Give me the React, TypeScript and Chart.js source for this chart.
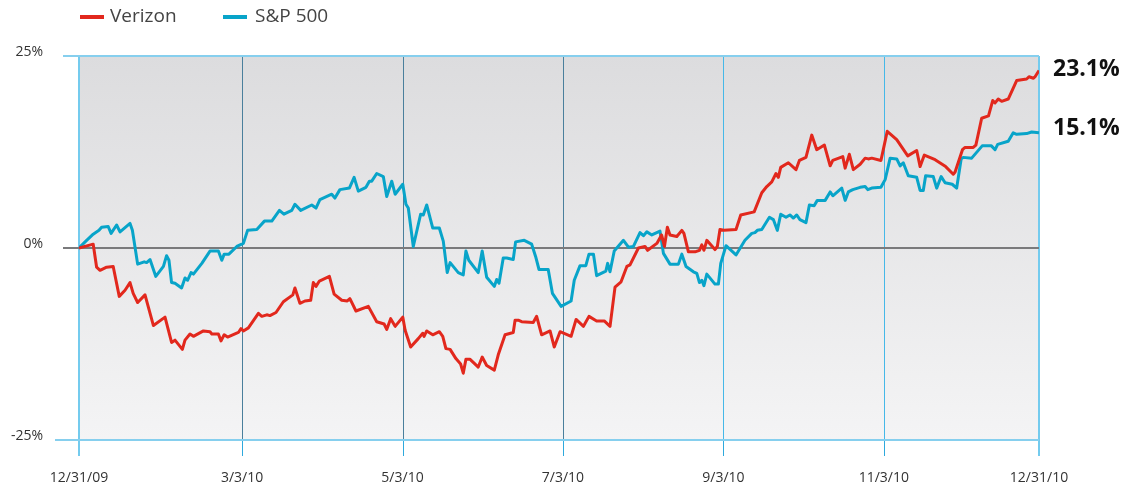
import React, { useEffect, useRef } from "react";
import { Chart, registerables } from "chart.js";

Chart.register(...registerables);

// Days since 12/31/09
const verizonDays = [0, 5.4, 6.7, 8.0, 10.5, 13.0, 15.3, 17.5, 19.4, 20.6, 22.3, 25.1, 28.3, 32.7, 35.2, 36.5, 39.3, 40.3, 42.2, 43.5, 47.3, 49.8, 50.5, 53.0, 54.0, 55.2, 56.5, 60.6, 61.6, 62.5, 64.4, 68.2, 69.5, 71.4, 72.6, 74.9, 77.7, 81.3, 82.1, 84.0, 85.9, 88.1, 89.1, 90.1, 91.4, 95.2, 97.0, 99.9, 102.0, 103.0, 105.3, 110.0, 113.2, 116.0, 117.0, 118.5, 120.2, 123.1, 124.0, 126.1, 129.0, 130.7, 131.2, 132.2, 134.5, 137.0, 138.3, 139.5, 141.1, 143.3, 145.1, 146.1, 147.1, 148.7, 151.8, 153.3, 155.0, 157.9, 159.4, 162.0, 165.1, 165.8, 167.0, 168.3, 172.7, 174.0, 175.9, 179.1, 180.7, 182.9, 187.1, 189.0, 191.8, 193.9, 196.8, 199.7, 201.9, 203.8, 206.1, 208.3, 209.5, 212.7, 215.2, 216.2, 219.7, 221.5, 222.6, 223.7, 224.7, 227.3, 229.2, 230.0, 231.7, 234.2, 235.9, 236.8, 237.6, 238.7, 241.8, 242.7, 243.7, 245.2, 249.8, 251.6, 256.7, 259.6, 261.5, 263.4, 265.0, 265.9, 266.8, 269.7, 272.6, 273.9, 276.4, 278.6, 280.5, 283.4, 285.6, 286.6, 290.4, 291.3, 292.9, 294.4, 297.0, 298.9, 300.1, 301.4, 304.9, 305.8, 307.3, 310.9, 315.1, 318.5, 319.8, 321.4, 325.5, 329.5, 332.4, 333.1, 335.9, 336.9, 340.0, 341.0, 343.2, 345.8, 347.4, 348.3, 349.5, 350.8, 353.3, 356.5, 360.3, 361.2, 362.9, 363.5, 365];
const verizonValues = [0, 0.5, -2.5, -2.9, -2.5, -2.4, -6.3, -5.5, -4.5, -5.9, -7.1, -6.1, -10.1, -9.0, -12.3, -12.0, -13.2, -12.0, -11.2, -11.5, -10.8, -10.9, -11.2, -11.2, -12.1, -11.3, -11.6, -11.0, -10.5, -10.8, -10.4, -8.5, -8.9, -8.7, -8.8, -8.4, -7.0, -6.1, -5.2, -7.2, -6.9, -6.8, -4.5, -5.0, -4.3, -3.7, -6.0, -6.8, -6.9, -6.6, -8.2, -7.6, -9.6, -9.9, -10.6, -9.2, -10.2, -9.0, -10.7, -12.9, -11.8, -11.1, -11.5, -10.8, -11.3, -10.9, -11.5, -13.1, -13.2, -14.4, -15.1, -16.3, -14.5, -14.5, -15.5, -14.2, -15.3, -15.9, -13.9, -11.3, -11.0, -9.4, -9.4, -9.6, -9.7, -8.9, -11.3, -10.8, -12.9, -10.9, -11.5, -9.3, -10.2, -8.9, -9.5, -9.5, -10.2, -5.1, -4.4, -2.4, -2.2, 0, 0.2, -0.3, 0.6, 1.7, 0.2, 2.7, 1.7, 1.5, 2.3, 1.9, -0.5, -0.5, -0.3, 0.4, -0.3, 1.0, -0.2, 0.2, 2.4, 2.3, 2.4, 4.3, 4.7, 7.2, 8.0, 8.6, 9.7, 9.2, 10.5, 11.1, 10.2, 11.4, 11.8, 14.7, 12.8, 13.4, 10.7, 11.4, 11.9, 10.4, 12.2, 10.2, 10.9, 11.7, 11.6, 11.7, 11.4, 12.8, 15.2, 14.1, 12.0, 12.7, 10.6, 12.1, 11.5, 10.6, 9.6, 9.9, 12.8, 13.1, 13.1, 13.4, 16.9, 17.2, 19.2, 18.9, 19.4, 19.1, 19.4, 21.8, 22.0, 22.3, 22.1, 22.3, 23.1];

const spDays = [0, 2.9, 5.4, 7.6, 8.6, 11.1, 12.2, 14.3, 15.6, 19.4, 20.3, 22.3, 24.8, 25.7, 27.0, 29.2, 32.1, 33.3, 34.2, 35.2, 36.5, 39.0, 40.3, 41.3, 42.6, 43.5, 46.7, 49.8, 53.0, 54.3, 55.2, 57.0, 60.0, 62.5, 64.1, 67.6, 70.5, 73.3, 76.2, 77.9, 80.9, 82.1, 84.3, 88.5, 90.1, 91.6, 96.1, 97.3, 99.2, 102.8, 104.6, 106.2, 109.1, 110.4, 111.3, 113.2, 115.7, 117.0, 118.9, 120.2, 123.1, 124.3, 125.2, 127.1, 129.9, 130.9, 132.2, 134.5, 137.0, 138.5, 140.0, 141.1, 144.2, 146.1, 147.1, 148.2, 151.8, 153.3, 155.0, 157.9, 158.8, 159.7, 161.3, 162.6, 165.1, 166.0, 169.3, 172.1, 173.6, 174.9, 178.4, 180.0, 183.3, 187.1, 188.3, 190.5, 192.7, 193.9, 195.6, 196.8, 200.3, 201.0, 201.9, 203.5, 207.0, 208.9, 210.8, 213.3, 214.6, 215.9, 217.8, 220.9, 222.2, 224.7, 227.9, 229.2, 230.8, 233.6, 234.9, 235.9, 236.8, 237.6, 238.7, 241.8, 243.1, 244.0, 246.0, 249.8, 253.2, 255.8, 257.0, 257.9, 259.6, 262.5, 264.0, 265.5, 266.8, 268.8, 270.3, 271.6, 272.9, 274.1, 276.4, 277.7, 279.5, 280.7, 283.7, 285.6, 286.6, 290.0, 291.3, 292.5, 294.2, 297.0, 298.9, 299.9, 301.4, 304.9, 306.5, 308.4, 310.9, 312.2, 313.4, 315.3, 318.5, 319.8, 321.0, 321.9, 324.8, 326.1, 327.8, 329.3, 332.0, 333.7, 335.4, 336.2, 339.4, 343.4, 346.9, 348.3, 349.3, 353.3, 355.2, 356.5, 360.3, 362.2, 365];
const spValues = [0, 1.0, 1.8, 2.3, 2.7, 2.8, 1.9, 3.0, 2.1, 3.2, 2.3, -2.1, -1.8, -1.9, -1.5, -3.7, -2.4, -1.0, -1.6, -4.5, -4.6, -5.2, -3.9, -4.2, -3.2, -3.4, -2.0, -0.4, -0.4, -1.6, -0.8, -0.8, 0.2, 0.6, 2.3, 2.4, 3.5, 3.5, 4.9, 4.4, 4.9, 5.7, 4.9, 5.6, 5.2, 6.3, 7.0, 6.5, 7.6, 7.8, 9.2, 7.4, 7.9, 8.7, 8.7, 9.7, 9.3, 6.7, 8.7, 7.0, 8.3, 5.7, 5.2, 0.2, 4.4, 4.3, 5.6, 2.6, 2.6, 0.9, -3.2, -1.9, -3.2, -3.5, -0.4, -1.6, -3.2, -0.4, -3.8, -5.0, -4.1, -4.6, -1.3, -1.3, -1.5, 0.8, 1.0, 0.5, -1.1, -2.8, -2.8, -5.9, -7.6, -6.9, -4.2, -2.3, -2.3, -0.8, -0.8, -3.6, -3.0, -2.0, -3.1, -0.4, 1.0, 0.1, 0.2, 2.0, 1.6, 2.1, 1.7, 2.2, -0.7, -2.1, -2.1, -0.8, -2.4, -3.1, -3.3, -4.5, -4.2, -4.9, -3.4, -4.7, -4.7, -2.0, 0.3, -0.9, 1.0, 1.9, 2.0, 2.3, 2.4, 4.0, 3.7, 2.3, 4.4, 4.0, 4.3, 3.9, 4.3, 3.7, 3.3, 5.6, 5.5, 6.2, 6.2, 7.3, 6.8, 7.8, 6.2, 7.3, 7.6, 7.9, 8.0, 7.6, 7.8, 7.9, 8.9, 11.7, 11.6, 10.7, 11.1, 9.4, 9.2, 7.5, 7.5, 9.4, 9.3, 7.8, 9.3, 8.5, 8.3, 7.8, 11.6, 11.8, 11.7, 13.3, 13.3, 12.8, 13.5, 13.9, 15.0, 14.8, 14.9, 15.1, 15.0];

const xTickDays = [0, 62, 123, 184, 245, 306, 365];
const xTickLabels = ["12/31/09", "3/3/10", "5/3/10", "7/3/10", "9/3/10", "11/3/10", "12/31/10"];
const yTickValues = [25, 0, -25];
const yTickLabels = ["25%", "0%", "-25%"];
const seriesNames = ["Verizon", "S&P 500"];
const endLabels = ["23.1%", "15.1%"];

const RED = "#e2281d";
const BLUE = "#08a4c9";
const FONT = '"Open Sans", "DejaVu Sans", sans-serif';

const decor = {
  id: "decor",
  beforeDatasetsDraw(chart: any) {
    const { ctx, chartArea } = chart;
    const { left, right, top, bottom } = chartArea;
    const x = chart.scales.x;
    const y = chart.scales.y;
    ctx.save();
    const g = ctx.createLinearGradient(0, top, 0, bottom);
    g.addColorStop(0, "#dcdcde");
    g.addColorStop(1, "#f4f4f5");
    ctx.fillStyle = g;
    ctx.fillRect(left, top, right - left, bottom - top);

    // vertical grid lines
    xTickDays.forEach((d, i) => {
      const edge = i === 0 || i === xTickDays.length - 1;
      const dark = i >= 1 && i <= 3;
      const px = Math.round(x.getPixelForValue(d)) + (edge ? 0 : 0.5);
      ctx.strokeStyle = edge ? "#74cbee" : dark ? "#4a7f9c" : "#45b8e8";
      ctx.lineWidth = edge ? 2 : 1;
      ctx.beginPath();
      ctx.moveTo(px, top);
      ctx.lineTo(px, bottom);
      ctx.stroke();
      ctx.strokeStyle = edge ? "#74cbee" : "#2ea9dd";
      ctx.beginPath();
      ctx.moveTo(px, bottom);
      ctx.lineTo(px, bottom + 16);
      ctx.stroke();
    });

    // horizontal lines
    const yTop = y.getPixelForValue(25);
    const yBot = y.getPixelForValue(-25);
    const yZero = y.getPixelForValue(0);
    ctx.lineWidth = 2;
    ctx.strokeStyle = "#86cfee";
    ctx.beginPath();
    ctx.moveTo(63, yTop);
    ctx.lineTo(right, yTop);
    ctx.moveTo(55, yBot);
    ctx.lineTo(right, yBot);
    ctx.stroke();
    ctx.strokeStyle = "#7a7a7c";
    ctx.beginPath();
    ctx.moveTo(63, yZero);
    ctx.lineTo(right, yZero);
    ctx.stroke();

    // y labels
    ctx.fillStyle = "#333";
    ctx.font = `14px ${FONT}`;
    ctx.textAlign = "right";
    ctx.textBaseline = "middle";
    yTickValues.forEach((v, i) => {
      ctx.fillText(yTickLabels[i], 43, y.getPixelForValue(v) - 4);
    });

    // x labels
    ctx.textAlign = "center";
    xTickDays.forEach((d, i) => {
      ctx.fillText(xTickLabels[i], x.getPixelForValue(d), 478);
    });

    // legend
    ctx.font = `19px ${FONT}`;
    ctx.textAlign = "left";
    ctx.fillStyle = RED;
    ctx.fillRect(80, 15, 24, 4);
    ctx.fillStyle = BLUE;
    ctx.fillRect(223, 15, 24, 4);
    ctx.fillStyle = "#444";
    ctx.fillText(seriesNames[0], 110, 17);
    ctx.fillText(seriesNames[1], 255, 17);

    // end labels
    ctx.font = `bold 23px ${FONT}`;
    ctx.fillStyle = "#111";
    ctx.fillText(endLabels[0], 1053, 69);
    ctx.fillText(endLabels[1], 1053, 128);
    ctx.restore();
  },
};

export default function App() {
  const ref = useRef<HTMLCanvasElement>(null);
  useEffect(() => {
    const chart = new Chart(ref.current as HTMLCanvasElement, {
      type: "line",
      data: {
        datasets: [
          {
            label: seriesNames[0],
            data: verizonDays.map((d, i) => ({ x: d, y: verizonValues[i] })),
            borderColor: RED,
            borderWidth: 3,
            pointRadius: 0,
            tension: 0,
            borderJoinStyle: "round",
          },
          {
            label: seriesNames[1],
            data: spDays.map((d, i) => ({ x: d, y: spValues[i] })),
            borderColor: BLUE,
            borderWidth: 3,
            pointRadius: 0,
            tension: 0,
            borderJoinStyle: "round",
          },
        ],
      },
      options: {
        animation: false,
        responsive: false,
        layout: { padding: { left: 79, right: 87, top: 56, bottom: 48 } },
        plugins: { legend: { display: false }, tooltip: { enabled: false } },
        scales: {
          x: { type: "linear", min: 0, max: 365, display: false },
          y: { type: "linear", min: -25, max: 25, display: false },
        },
      },
      plugins: [decor],
    } as any);
    return () => chart.destroy();
  }, []);
  return (
    <div style={{ position: "absolute", left: 0, top: 0, width: 1126, height: 488 }}>
      <canvas ref={ref} width={1126} height={488} />
    </div>
  );
}
